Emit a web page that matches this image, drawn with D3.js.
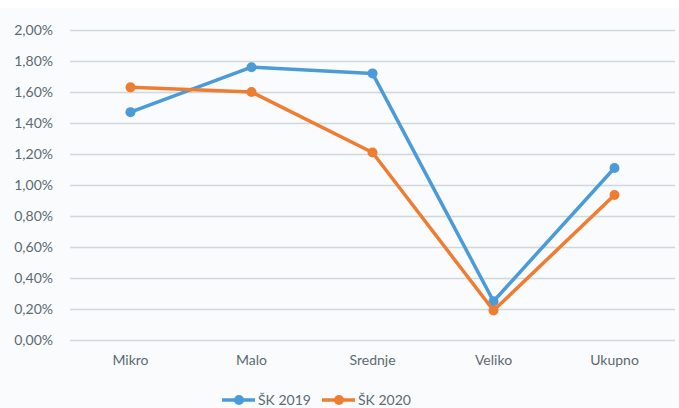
<!DOCTYPE html>
<html>
<head>
<meta charset="utf-8">
<script src="https://cdn.jsdelivr.net/npm/d3@7"></script>
<style>
  body { margin: 0; background: #ffffff; }
  text { font-family: Lato, "Open Sans", sans-serif; }
</style>
</head>
<body>
<div id="chart"></div>
<script>
// chart data
var categories = ["Mikro", "Malo", "Srednje", "Veliko", "Ukupno"];
var seriesNames = ["ŠK 2019", "ŠK 2020"];
var sk2019 = [1.47, 1.76, 1.72, 0.25, 1.11];
var sk2020 = [1.63, 1.60, 1.21, 0.19, 0.935];
var yTicks = [0, 0.2, 0.4, 0.6, 0.8, 1.0, 1.2, 1.4, 1.6, 1.8, 2.0];
var colors = ["#4a9bd8", "#ee7d32"];

var svgWidth = 679;
var svgHeight = 408;

var margin = { top: 30, right: 4, bottom: 68, left: 70 };
var width = svgWidth - margin.left - margin.right;
var height = svgHeight - margin.top - margin.bottom;

var svg = d3.select("#chart")
    .append("svg")
    .attr("width", svgWidth)
    .attr("height", svgHeight);

// light panel behind the chart
svg.append("rect")
    .attr("x", 0)
    .attr("y", 8)
    .attr("width", svgWidth)
    .attr("height", svgHeight - 8)
    .attr("fill", "#fafbfd");

var chartGroup = svg.append("g")
    .attr("transform", `translate(${margin.left}, ${margin.top})`);

var xScale = d3.scaleBand()
    .domain(categories)
    .range([0, width]);

var yScale = d3.scaleLinear()
    .domain([0, 2])
    .range([height, 0]);

// gridlines + y labels
var leftAxis = d3.axisLeft(yScale)
    .tickValues(yTicks)
    .tickSize(-width)
    .tickPadding(17)
    .tickFormat(d => d3.format(".2f")(d).replace(".", ",") + "%");

var yAxis = chartGroup.append("g").call(leftAxis);
yAxis.select(".domain").remove();
yAxis.selectAll("line")
    .attr("stroke", "#d0d8dc")
    .attr("stroke-width", 1.5);
yAxis.selectAll("text")
    .attr("fill", "#5b6a72")
    .style("font-size", "14px");

// x labels
var bottomAxis = d3.axisBottom(xScale).tickSize(0).tickPadding(15);
var xAxis = chartGroup.append("g")
    .attr("transform", `translate(0, ${height})`)
    .call(bottomAxis);
xAxis.select(".domain").remove();
xAxis.selectAll("text")
    .attr("fill", "#5b6a72")
    .style("font-size", "14px");

var line = d3.line()
    .x((d, i) => xScale(categories[i]) + xScale.bandwidth() / 2)
    .y(d => yScale(d));

var allSeries = [sk2019, sk2020];

allSeries.forEach(function(values, s) {
    chartGroup.append("path")
        .datum(values)
        .attr("d", line)
        .attr("fill", "none")
        .attr("stroke", colors[s])
        .attr("stroke-width", 3.5)
        .attr("stroke-linejoin", "round");

    chartGroup.selectAll(".dot" + s)
        .data(values)
        .enter()
        .append("circle")
        .attr("cx", (d, i) => xScale(categories[i]) + xScale.bandwidth() / 2)
        .attr("cy", d => yScale(d))
        .attr("r", 5)
        .attr("fill", colors[s]);
});

// legend
var legend = svg.append("g")
    .attr("transform", "translate(222, 400)");

seriesNames.forEach(function(name, s) {
    var g = legend.append("g")
        .attr("transform", `translate(${s * 100}, 0)`);
    g.append("line")
        .attr("x1", 0).attr("x2", 33)
        .attr("y1", 0).attr("y2", 0)
        .attr("stroke", colors[s])
        .attr("stroke-width", 3.5);
    g.append("circle")
        .attr("cx", 17).attr("cy", 0)
        .attr("r", 5)
        .attr("fill", colors[s]);
    g.append("text")
        .attr("x", 36)
        .attr("y", 0)
        .attr("dy", "0.35em")
        .attr("fill", "#5b6a72")
        .style("font-size", "14px")
        .text(name);
});
</script>
</body>
</html>
